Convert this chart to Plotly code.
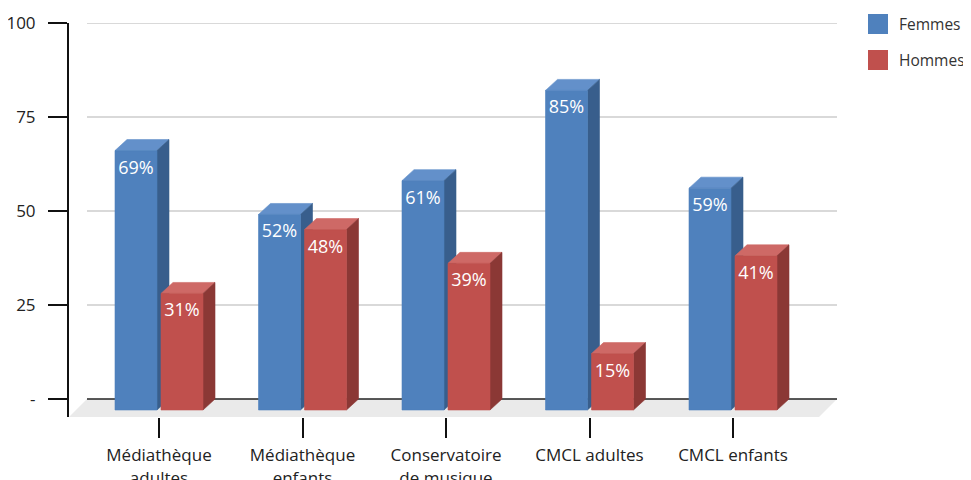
import plotly.graph_objects as go

# ---------------- data ----------------
categories = ["Médiathèque adultes", "Médiathèque enfants", "Conservatoire de musique",
              "CMCL adultes", "CMCL enfants"]
tick_labels = ["Médiathèque<br>adultes", "Médiathèque<br>enfants", "Conservatoire<br>de musique",
               "CMCL adultes", "CMCL enfants"]
femmes = [69, 52, 61, 85, 59]
hommes = [31, 48, 39, 15, 41]
series_names = ["Femmes", "Hommes"]
y_tickvals = [0, 25, 50, 75, 100]
y_ticktext = ["-", "25", "50", "75", "100"]

# ---------------- geometry (page pixel constants -> data units) ----------------
OFF = 8                                  # body margin of the html page
PAGE_W, PAGE_H = 971, 480
W, H = PAGE_W - OFF, PAGE_H - OFF
L, R, T, B = 69, 837, 23, 417            # plot area in page pixels
CAT_PX = 143.5                           # pixels per category
FIRST_C = 159                            # page pixel of first category centre
PX_PER_UNIT_Y = 3.76                     # pixels per y unit
PX_X = 1.0 / CAT_PX
PX_Y = 1.0 / PX_PER_UNIT_Y

x_min = -(FIRST_C - L) * PX_X
x_max = (R - FIRST_C) * PX_X
y_max = 100
y_min = -(B - (T + y_max * PX_PER_UNIT_Y)) * PX_Y

BAR_W = 42 * PX_X
HALF_GAP = 2 * PX_X
DX = 12 * PX_X
DY = 11 * PX_Y
FLOOR_D = 18
LABEL_OFF = 18.5 * PX_Y

colors = {
    "Femmes": dict(front="#4F81BD", side="#385E8C", top="#6390CA"),
    "Hommes": dict(front="#C0504D", side="#8B3835", top="#CE6966"),
}

fig = go.Figure()

def add_poly(xs, ys, color):
    fig.add_trace(go.Scatter(x=xs, y=ys, mode="lines", fill="toself",
                             fillcolor=color, line=dict(color=color, width=0.6),
                             hoverinfo="skip", showlegend=False))

for s_idx, (name, vals) in enumerate(zip(series_names, [femmes, hommes])):
    c = colors[name]
    tops_x, tops_y, sides_x, sides_y, fr_x, fr_y = [], [], [], [], [], []
    for i, v in enumerate(vals):
        if s_idx == 0:
            x0, x1 = i - HALF_GAP - BAR_W, i - HALF_GAP
        else:
            x0, x1 = i + HALF_GAP, i + HALF_GAP + BAR_W
        tops_x += [x0, x0 + DX, x1 + DX, x1, x0, None]
        tops_y += [v - DY, v, v, v - DY, v - DY, None]
        sides_x += [x1, x1 + DX, x1 + DX, x1, x1, None]
        sides_y += [-DY, 0, v, v - DY, -DY, None]
        fr_x += [x0, x1, x1, x0, x0, None]
        fr_y += [-DY, -DY, v - DY, v - DY, -DY, None]
    add_poly(tops_x, tops_y, c["top"])
    add_poly(sides_x, sides_y, c["side"])
    add_poly(fr_x, fr_y, c["front"])

# value labels
for s_idx, vals in enumerate([femmes, hommes]):
    xs = [(i - HALF_GAP - BAR_W / 2) if s_idx == 0 else (i + HALF_GAP + BAR_W / 2)
          for i in range(len(vals))]
    ys = [v - DY - LABEL_OFF for v in vals]
    fig.add_trace(go.Scatter(x=xs, y=ys, mode="text", text=[f"{v}%" for v in vals],
                             textposition="middle center",
                             textfont=dict(family="Open Sans", size=18, color="white"),
                             hoverinfo="skip", showlegend=False))

shapes = []
# floor
fx = FLOOR_D * PX_X
fy = FLOOR_D * PX_Y
floor_path = (f"M {x_min + fx},0 L {x_max},0 L {x_max - fx},{-fy} "
              f"L {x_min},{-fy} Z")
shapes.append(dict(type="path", path=floor_path, xref="x", yref="y",
                   fillcolor="#EAEAEA", line=dict(width=0), layer="below"))
# grid lines
for tv in y_tickvals:
    shapes.append(dict(type="line", xref="x", yref="y", x0=x_min + fx, x1=x_max,
                       y0=tv, y1=tv, layer="below",
                       line=dict(color="#222222" if tv == 0 else "#CCCCCC", width=1.5)))

# manual legend (page pixel -> paper)
def px2paper_x(px):
    return (px - L) / (R - L)

def px2paper_y(py):
    return (B - py) / (B - T)

annotations = []
for k, name in enumerate(series_names):
    top = 14 + 36 * k
    shapes.append(dict(type="rect", xref="paper", yref="paper",
                       x0=px2paper_x(868), x1=px2paper_x(888),
                       y0=px2paper_y(top + 20), y1=px2paper_y(top),
                       fillcolor=colors[name]["front"], line=dict(width=0)))
    annotations.append(dict(xref="paper", yref="paper", x=px2paper_x(897),
                            y=px2paper_y(top + 10), text=name, showarrow=False,
                            xanchor="left", yanchor="middle",
                            font=dict(family="Open Sans", size=15.5, color="#333333")))

fig.update_layout(
    width=W, height=H,
    margin=dict(l=L - OFF, r=(OFF + W) - R, t=T - OFF, b=(OFF + H) - B, pad=0,
                autoexpand=False),
    paper_bgcolor="white", plot_bgcolor="white",
    showlegend=False,
    shapes=shapes, annotations=annotations,
    font=dict(family="Open Sans", size=16, color="#222222"),
    xaxis=dict(range=[x_min, x_max], tickvals=list(range(len(categories))),
               ticktext=tick_labels, ticks="outside", ticklen=20, tickwidth=2,
               tickcolor="#111111", showgrid=False, zeroline=False, showline=False,
               ticklabelstandoff=3, automargin=False, fixedrange=True,
               tickfont=dict(size=17, color="#222222")),
    yaxis=dict(range=[y_min, y_max], tickvals=y_tickvals, ticktext=y_ticktext,
               ticks="outside", ticklen=19, tickwidth=2, tickcolor="#111111",
               showgrid=False, zeroline=False, showline=True, linecolor="#111111",
               linewidth=2, ticklabelstandoff=9, automargin=False, fixedrange=True,
               tickfont=dict(size=17, color="#222222")),
)

fig.write_html("out.html")
